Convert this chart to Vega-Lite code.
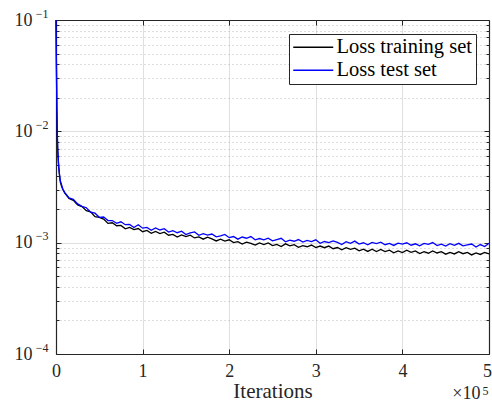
{
"$schema": "https://vega.github.io/schema/vega-lite/v6.json",
"width": 433, "height": 334,
"autosize": "none",
"padding": {"left": 56, "top": 20, "right": 3, "bottom": 47},
"background": "white",
"config": {
  "font": "Liberation Serif",
  "view": {"stroke": null},
  "axis": {"domainColor": "#262626", "tickColor": "#262626", "labelColor": "#262626", "titleColor": "#262626", "labelFont": "Liberation Serif", "titleFont": "Liberation Serif", "titleFontWeight": "normal", "labelFlush": false, "labelOverlap": false, "labelBound": false, "domainWidth": 1.2, "tickWidth": 1, "grid": false}
},
"datasets": {
"d": [
{"i":0,"v":0.1,"s":"Loss training set"},{"i":500,"v":0.038,"s":"Loss training set"},{"i":1000,"v":0.015,"s":"Loss training set"},{"i":1500,"v":0.0092,"s":"Loss training set"},{"i":2000,"v":0.0067,"s":"Loss training set"},{"i":3000,"v":0.0049,"s":"Loss training set"},{"i":4000,"v":0.0041,"s":"Loss training set"},{"i":5000,"v":0.0035,"s":"Loss training set"},{"i":6500,"v":0.0032,"s":"Loss training set"},{"i":8000,"v":0.0030,"s":"Loss training set"},
{"i":10000,"v":0.00280,"s":"Loss training set"},{"i":15000,"v":0.00250,"s":"Loss training set"},{"i":20000,"v":0.00240,"s":"Loss training set"},{"i":25000,"v":0.00218,"s":"Loss training set"},{"i":30000,"v":0.00211,"s":"Loss training set"},{"i":35000,"v":0.00194,"s":"Loss training set"},{"i":40000,"v":0.00189,"s":"Loss training set"},{"i":45000,"v":0.001715,"s":"Loss training set"},{"i":50000,"v":0.00169,"s":"Loss training set"},{"i":55000,"v":0.00163,"s":"Loss training set"},
{"i":60000,"v":0.00149,"s":"Loss training set"},{"i":65000,"v":0.00151,"s":"Loss training set"},{"i":70000,"v":0.00142,"s":"Loss training set"},{"i":75000,"v":0.00143,"s":"Loss training set"},{"i":80000,"v":0.00133,"s":"Loss training set"},{"i":85000,"v":0.00137,"s":"Loss training set"},{"i":90000,"v":0.00131,"s":"Loss training set"},{"i":95000,"v":0.00134,"s":"Loss training set"},{"i":100000,"v":0.001254,"s":"Loss training set"},{"i":105000,"v":0.00129,"s":"Loss training set"},
{"i":110000,"v":0.001213,"s":"Loss training set"},{"i":115000,"v":0.00126,"s":"Loss training set"},{"i":120000,"v":0.001208,"s":"Loss training set"},{"i":125000,"v":0.001241,"s":"Loss training set"},{"i":130000,"v":0.001166,"s":"Loss training set"},{"i":135000,"v":0.001187,"s":"Loss training set"},{"i":140000,"v":0.001125,"s":"Loss training set"},{"i":145000,"v":0.001174,"s":"Loss training set"},{"i":150000,"v":0.001132,"s":"Loss training set"},{"i":155000,"v":0.001168,"s":"Loss training set"},
{"i":160000,"v":0.001103,"s":"Loss training set"},{"i":165000,"v":0.001127,"s":"Loss training set"},{"i":170000,"v":0.001075,"s":"Loss training set"},{"i":175000,"v":0.001121,"s":"Loss training set"},{"i":180000,"v":0.00108,"s":"Loss training set"},{"i":185000,"v":0.001036,"s":"Loss training set"},{"i":190000,"v":0.001076,"s":"Loss training set"},{"i":195000,"v":0.001033,"s":"Loss training set"},{"i":200000,"v":0.001061,"s":"Loss training set"},{"i":205000,"v":0.001,"s":"Loss training set"},
{"i":210000,"v":0.00102,"s":"Loss training set"},{"i":215000,"v":0.00097,"s":"Loss training set"},{"i":220000,"v":0.00101,"s":"Loss training set"},{"i":225000,"v":0.000985,"s":"Loss training set"},{"i":230000,"v":0.000951,"s":"Loss training set"},{"i":235000,"v":0.000995,"s":"Loss training set"},{"i":240000,"v":0.00096,"s":"Loss training set"},{"i":245000,"v":0.000994,"s":"Loss training set"},{"i":250000,"v":0.000941,"s":"Loss training set"},{"i":255000,"v":0.000966,"s":"Loss training set"},
{"i":260000,"v":0.000923,"s":"Loss training set"},{"i":265000,"v":0.000976,"s":"Loss training set"},{"i":270000,"v":0.000935,"s":"Loss training set"},{"i":275000,"v":0.000959,"s":"Loss training set"},{"i":280000,"v":0.000908,"s":"Loss training set"},{"i":285000,"v":0.000941,"s":"Loss training set"},{"i":290000,"v":0.000919,"s":"Loss training set"},{"i":295000,"v":0.000952,"s":"Loss training set"},{"i":300000,"v":0.000902,"s":"Loss training set"},{"i":305000,"v":0.000933,"s":"Loss training set"},
{"i":310000,"v":0.000901,"s":"Loss training set"},{"i":315000,"v":0.000932,"s":"Loss training set"},{"i":320000,"v":0.000882,"s":"Loss training set"},{"i":325000,"v":0.000904,"s":"Loss training set"},{"i":330000,"v":0.000863,"s":"Loss training set"},{"i":335000,"v":0.000903,"s":"Loss training set"},{"i":340000,"v":0.000871,"s":"Loss training set"},{"i":345000,"v":0.000893,"s":"Loss training set"},{"i":350000,"v":0.000844,"s":"Loss training set"},{"i":355000,"v":0.000874,"s":"Loss training set"},
{"i":360000,"v":0.000834,"s":"Loss training set"},{"i":365000,"v":0.000872,"s":"Loss training set"},{"i":370000,"v":0.000833,"s":"Loss training set"},{"i":375000,"v":0.00087,"s":"Loss training set"},{"i":380000,"v":0.000832,"s":"Loss training set"},{"i":385000,"v":0.000855,"s":"Loss training set"},{"i":390000,"v":0.000811,"s":"Loss training set"},{"i":395000,"v":0.000842,"s":"Loss training set"},{"i":400000,"v":0.000815,"s":"Loss training set"},{"i":405000,"v":0.000855,"s":"Loss training set"},
{"i":410000,"v":0.00082,"s":"Loss training set"},{"i":415000,"v":0.000843,"s":"Loss training set"},{"i":420000,"v":0.000799,"s":"Loss training set"},{"i":425000,"v":0.00083,"s":"Loss training set"},{"i":430000,"v":0.000804,"s":"Loss training set"},{"i":435000,"v":0.000843,"s":"Loss training set"},{"i":440000,"v":0.000808,"s":"Loss training set"},{"i":445000,"v":0.00083,"s":"Loss training set"},{"i":450000,"v":0.000788,"s":"Loss training set"},{"i":455000,"v":0.000818,"s":"Loss training set"},
{"i":460000,"v":0.000792,"s":"Loss training set"},{"i":465000,"v":0.00083,"s":"Loss training set"},{"i":470000,"v":0.000796,"s":"Loss training set"},{"i":475000,"v":0.000818,"s":"Loss training set"},{"i":480000,"v":0.000776,"s":"Loss training set"},{"i":485000,"v":0.000808,"s":"Loss training set"},{"i":490000,"v":0.000784,"s":"Loss training set"},{"i":495000,"v":0.000816,"s":"Loss training set"},{"i":500000,"v":0.000792,"s":"Loss training set"},
{"i":0,"v":0.1,"s":"Loss test set"},{"i":500,"v":0.04,"s":"Loss test set"},{"i":1000,"v":0.016,"s":"Loss test set"},{"i":1500,"v":0.0095,"s":"Loss test set"},{"i":2000,"v":0.0068,"s":"Loss test set"},{"i":3000,"v":0.005,"s":"Loss test set"},{"i":4000,"v":0.0041,"s":"Loss test set"},{"i":5000,"v":0.0036,"s":"Loss test set"},{"i":6500,"v":0.0033,"s":"Loss test set"},{"i":8000,"v":0.003,"s":"Loss test set"},
{"i":10000,"v":0.00283,"s":"Loss test set"},{"i":15000,"v":0.00252,"s":"Loss test set"},{"i":20000,"v":0.00245,"s":"Loss test set"},{"i":25000,"v":0.00223,"s":"Loss test set"},{"i":30000,"v":0.00212,"s":"Loss test set"},{"i":35000,"v":0.00206,"s":"Loss test set"},{"i":40000,"v":0.00188,"s":"Loss test set"},{"i":45000,"v":0.00184,"s":"Loss test set"},{"i":50000,"v":0.00169,"s":"Loss test set"},{"i":55000,"v":0.0017,"s":"Loss test set"},
{"i":60000,"v":0.00158,"s":"Loss test set"},{"i":65000,"v":0.00158,"s":"Loss test set"},{"i":70000,"v":0.00149,"s":"Loss test set"},{"i":75000,"v":0.00154,"s":"Loss test set"},{"i":80000,"v":0.00145,"s":"Loss test set"},{"i":85000,"v":0.00146,"s":"Loss test set"},{"i":90000,"v":0.00137,"s":"Loss test set"},{"i":95000,"v":0.00145,"s":"Loss test set"},{"i":100000,"v":0.00135,"s":"Loss test set"},{"i":105000,"v":0.001372,"s":"Loss test set"},
{"i":110000,"v":0.00129,"s":"Loss test set"},{"i":115000,"v":0.001354,"s":"Loss test set"},{"i":120000,"v":0.0013,"s":"Loss test set"},{"i":125000,"v":0.001336,"s":"Loss test set"},{"i":130000,"v":0.001245,"s":"Loss test set"},{"i":135000,"v":0.00128,"s":"Loss test set"},{"i":140000,"v":0.001228,"s":"Loss test set"},{"i":145000,"v":0.001267,"s":"Loss test set"},{"i":150000,"v":0.001183,"s":"Loss test set"},{"i":155000,"v":0.001222,"s":"Loss test set"},
{"i":160000,"v":0.001248,"s":"Loss test set"},{"i":165000,"v":0.001166,"s":"Loss test set"},{"i":170000,"v":0.001204,"s":"Loss test set"},{"i":175000,"v":0.00117,"s":"Loss test set"},{"i":180000,"v":0.001195,"s":"Loss test set"},{"i":185000,"v":0.001127,"s":"Loss test set"},{"i":190000,"v":0.001151,"s":"Loss test set"},{"i":195000,"v":0.001187,"s":"Loss test set"},{"i":200000,"v":0.001109,"s":"Loss test set"},{"i":205000,"v":0.001136,"s":"Loss test set"},
{"i":210000,"v":0.001075,"s":"Loss test set"},{"i":215000,"v":0.001124,"s":"Loss test set"},{"i":220000,"v":0.001096,"s":"Loss test set"},{"i":225000,"v":0.001134,"s":"Loss test set"},{"i":230000,"v":0.001062,"s":"Loss test set"},{"i":235000,"v":0.001089,"s":"Loss test set"},{"i":240000,"v":0.001061,"s":"Loss test set"},{"i":245000,"v":0.001098,"s":"Loss test set"},{"i":250000,"v":0.001039,"s":"Loss test set"},{"i":255000,"v":0.001067,"s":"Loss test set"},
{"i":260000,"v":0.001094,"s":"Loss test set"},{"i":265000,"v":0.001017,"s":"Loss test set"},{"i":270000,"v":0.001054,"s":"Loss test set"},{"i":275000,"v":0.00103,"s":"Loss test set"},{"i":280000,"v":0.001067,"s":"Loss test set"},{"i":285000,"v":0.001011,"s":"Loss test set"},{"i":290000,"v":0.001049,"s":"Loss test set"},{"i":295000,"v":0.001024,"s":"Loss test set"},{"i":300000,"v":0.001061,"s":"Loss test set"},{"i":305000,"v":0.000986,"s":"Loss test set"},
{"i":310000,"v":0.001024,"s":"Loss test set"},{"i":315000,"v":0.001001,"s":"Loss test set"},{"i":320000,"v":0.001038,"s":"Loss test set"},{"i":325000,"v":0.001005,"s":"Loss test set"},{"i":330000,"v":0.000962,"s":"Loss test set"},{"i":335000,"v":0.001019,"s":"Loss test set"},{"i":340000,"v":0.000986,"s":"Loss test set"},{"i":345000,"v":0.001033,"s":"Loss test set"},{"i":350000,"v":0.00097,"s":"Loss test set"},{"i":355000,"v":0.000998,"s":"Loss test set"},
{"i":360000,"v":0.000956,"s":"Loss test set"},{"i":365000,"v":0.001004,"s":"Loss test set"},{"i":370000,"v":0.000982,"s":"Loss test set"},{"i":375000,"v":0.001009,"s":"Loss test set"},{"i":380000,"v":0.000958,"s":"Loss test set"},{"i":385000,"v":0.000986,"s":"Loss test set"},{"i":390000,"v":0.000945,"s":"Loss test set"},{"i":395000,"v":0.000991,"s":"Loss test set"},{"i":400000,"v":0.00097,"s":"Loss test set"},{"i":405000,"v":0.000998,"s":"Loss test set"},
{"i":410000,"v":0.000949,"s":"Loss test set"},{"i":415000,"v":0.000977,"s":"Loss test set"},{"i":420000,"v":0.000937,"s":"Loss test set"},{"i":425000,"v":0.000984,"s":"Loss test set"},{"i":430000,"v":0.000964,"s":"Loss test set"},{"i":435000,"v":0.001002,"s":"Loss test set"},{"i":440000,"v":0.000943,"s":"Loss test set"},{"i":445000,"v":0.000971,"s":"Loss test set"},{"i":450000,"v":0.000931,"s":"Loss test set"},{"i":455000,"v":0.000978,"s":"Loss test set"},
{"i":460000,"v":0.000948,"s":"Loss test set"},{"i":465000,"v":0.000986,"s":"Loss test set"},{"i":470000,"v":0.000937,"s":"Loss test set"},{"i":475000,"v":0.000955,"s":"Loss test set"},{"i":480000,"v":0.000973,"s":"Loss test set"},{"i":485000,"v":0.000915,"s":"Loss test set"},{"i":490000,"v":0.000962,"s":"Loss test set"},{"i":495000,"v":0.000922,"s":"Loss test set"},{"i":500000,"v":0.000988,"s":"Loss test set"}
]
},
"data": {"name": "d"},
"resolve": {"axis": {"x": "independent", "y": "independent"}},
"layer": [
  {
    "mark": {"type": "line", "strokeWidth": 1.3},
    "encoding": {
      "x": {"field": "i", "type": "quantitative", "scale": {"domain": [0, 500000], "nice": false, "zero": false},
        "axis": {"orient": "bottom", "values": [0, 100000, 200000, 300000, 400000, 500000], "labelExpr": "format(datum.value/100000, 'd')", "labelFontSize": 18, "labelPadding": 13, "labelOffset": {"condition": {"test": "datum.value >= 500000", "value": -2}, "value": 0}, "tickSize": -5, "grid": true, "gridColor": "#dfdfdf", "gridWidth": 1, "title": "Iterations", "titleFontSize": 21, "titleBaseline": "alphabetic", "titleY": 43}},
      "y": {"field": "v", "type": "quantitative", "scale": {"type": "log", "domain": [0.0001, 0.1], "nice": false},
        "axis": {"orient": "left", "values": [0.0001, 0.001, 0.01, 0.1], "labelExpr": "'10'", "labelFontSize": 18, "labelPadding": 29, "tickSize": -5, "grid": true, "gridColor": "#dfdfdf", "gridWidth": 1, "title": null, "labelBaseline": "middle"}},
      "color": {"field": "s", "type": "nominal", "sort": null,
        "scale": {"domain": ["Loss training set", "Loss test set"], "range": ["#000000", "#0000ff"]},
        "legend": {"orient": "none", "legendX": 233, "legendY": 14, "title": null, "symbolType": "M-4,0H4", "symbolSize": 100, "symbolStrokeWidth": 1.3, "symbolOffset": 11, "labelFontSize": 20.5, "labelFont": "Liberation Serif", "labelColor": "#000000", "strokeColor": "#262626", "fillColor": "white", "padding": 3, "labelOffset": 13, "rowPadding": 2, "cornerRadius": 0}}
    }
  },
  {
    "mark": {"type": "point", "opacity": 0},
    "encoding": {
      "x": {"field": "i", "type": "quantitative", "scale": {"domain": [0, 500000], "nice": false, "zero": false},
        "axis": {"orient": "top", "values": [100000, 200000, 300000, 400000], "labels": false, "tickSize": -5, "grid": false, "title": "×10", "titleFontSize": 18, "titleAlign": "right", "titleBaseline": "alphabetic", "titleX": 424, "titleY": 378}},
      "y": {"field": "v", "type": "quantitative", "scale": {"type": "log", "domain": [0.0001, 0.1], "nice": false},
        "axis": {"orient": "left", "values": [0.0001, 0.001, 0.01, 0.1], "labelExpr": "'−' + format(-log(datum.value)/LN10, 'd')", "labelFontSize": 12, "labelPadding": 8, "labelOffset": -7, "ticks": false, "domain": false, "grid": false, "title": null, "labelBaseline": "middle"}}
    }
  },
  {
    "mark": {"type": "point", "opacity": 0},
    "encoding": {
      "x": {"field": "i", "type": "quantitative", "scale": {"domain": [0, 500000], "nice": false, "zero": false},
        "axis": {"orient": "top", "values": [], "labels": false, "ticks": false, "domain": false, "grid": false, "title": "5", "titleFontSize": 12, "titleAlign": "left", "titleBaseline": "alphabetic", "titleX": 426, "titleY": 374}},
      "y": {"field": "v", "type": "quantitative", "scale": {"type": "log", "domain": [0.0001, 0.1], "nice": false},
        "axis": {"orient": "left", "values": [0.0002,0.0003,0.0004,0.0005,0.0006,0.0007,0.0008,0.0009,0.002,0.003,0.004,0.005,0.006,0.007,0.008,0.009,0.02,0.03,0.04,0.05,0.06,0.07,0.08,0.09], "labels": false, "tickSize": -3, "domain": false, "grid": true, "gridDash": [1, 3], "gridColor": "#bdbdbd", "gridWidth": 1, "title": null}}
    }
  },
  {
    "mark": {"type": "point", "opacity": 0},
    "encoding": {
      "x": {"field": "i", "type": "quantitative", "scale": {"domain": [0, 500000], "nice": false, "zero": false}, "axis": null},
      "y": {"field": "v", "type": "quantitative", "scale": {"type": "log", "domain": [0.0001, 0.1], "nice": false},
        "axis": {"orient": "right", "values": [0.0001, 0.001, 0.01, 0.1], "labels": false, "tickSize": -5, "domain": true, "grid": false, "title": null}}
    }
  },
  {
    "mark": {"type": "point", "opacity": 0},
    "encoding": {
      "x": {"field": "i", "type": "quantitative", "scale": {"domain": [0, 500000], "nice": false, "zero": false}, "axis": null},
      "y": {"field": "v", "type": "quantitative", "scale": {"type": "log", "domain": [0.0001, 0.1], "nice": false},
        "axis": {"orient": "right", "values": [0.0002,0.0003,0.0004,0.0005,0.0006,0.0007,0.0008,0.0009,0.002,0.003,0.004,0.005,0.006,0.007,0.008,0.009,0.02,0.03,0.04,0.05,0.06,0.07,0.08,0.09], "labels": false, "tickSize": -3, "domain": false, "grid": false, "title": null}}
    }
  }
]
}
